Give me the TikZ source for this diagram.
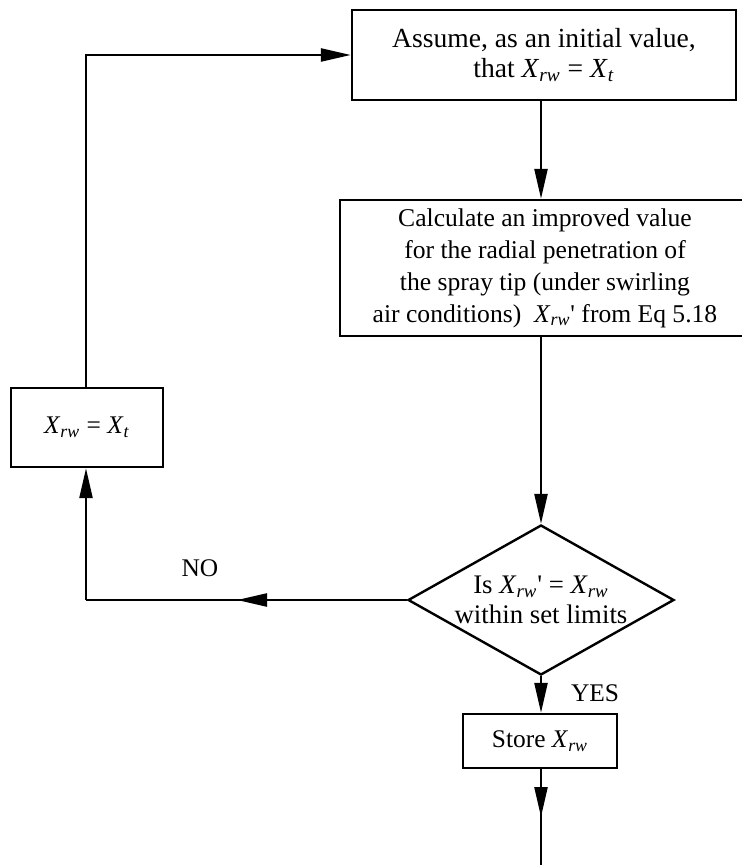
\documentclass[tikz,border=0pt]{standalone}
\usepackage{fontspec}
\setmainfont{Liberation Serif}
\usetikzlibrary{arrows.meta,shapes.geometric}
\newcommand{\Xv}[1]{\textit{X}\textsubscript{\textit{#1}}}
\begin{document}
\begin{tikzpicture}[x=0.5pt,y=-0.5pt,
  every node/.style={font=\fontsize{12.7pt}{15pt}\selectfont},
  flowbox/.style={draw,line width=1.2pt,rectangle,inner sep=0pt,align=center},
  link/.style={line width=1.2pt},
  arr/.style={link,-{Triangle[length=15pt,width=6.5pt]}}]
\useasboundingbox (0,0) rectangle (742,865);
\node[flowbox,minimum width=192pt,minimum height=45pt,
  font=\fontsize{13.8pt}{15pt}\selectfont] (top) at (544,55)
  {Assume, as an initial value,\\that \Xv{rw} = \Xv{t}};
\node[flowbox,minimum width=205pt,minimum height=68pt,
  font=\fontsize{12.8pt}{16pt}\selectfont] (calc) at (545,268)
  {Calculate an improved value\\for the radial penetration of\\the spray tip (under swirling\\air conditions)\ \ \Xv{rw}\textquotesingle\ from Eq 5.18};
\node[diamond,draw,line width=1.2pt,minimum width=133pt,minimum height=75pt,inner sep=0pt] (dec) at (541,600) {};
\node[align=center,font=\fontsize{13.4pt}{15pt}\selectfont] (dect) at (dec.center) {Is \Xv{rw}\textquotesingle\ = \Xv{rw}\\within set limits};
\node[flowbox,minimum width=76pt,minimum height=39.5pt] (fix) at (87,427.5) {\Xv{rw} = \Xv{t}};
\node[flowbox,minimum width=77pt,minimum height=27pt] (store) at (540,741) {Store \Xv{rw}};
\node (no) at (200,568) {NO};
\node (yes) at (595,693) {YES};
\coordinate (endtip) at (541,817);
\coordinate (endpt) at (541,865);
\coordinate (notip) at (237,600);
\coordinate (nocorner) at (86,600);
\draw[arr] (top.south -| dec.north) -- (calc.north -| dec.north);
\draw[arr] (calc.south -| dec.north) -- (dec.north);
\draw[arr] (dec.south) -- (store.north -| dec.south);
\draw[link] (store.south -| endtip) -- (endpt);
\draw[arr] (store.south -| endtip) -- (endtip);
\draw[link] (dec.west) -- (nocorner);
\draw[arr] (dec.west) -- (notip);
\draw[arr] (nocorner) -- (nocorner |- fix.south);
\draw[arr] (fix.north -| nocorner) |- (top.west);
\end{tikzpicture}
\end{document}
